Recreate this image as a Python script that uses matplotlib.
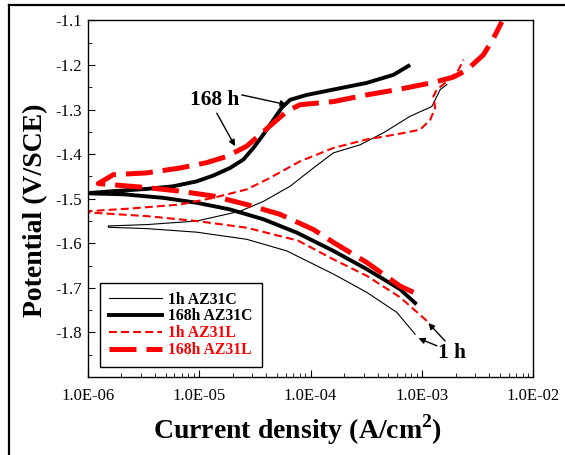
import numpy as np
import matplotlib
matplotlib.use("Agg")
import matplotlib.pyplot as plt
from matplotlib.lines import Line2D
from matplotlib.ticker import LogLocator, MultipleLocator, FixedLocator

plt.rcParams["font.family"] = ["Liberation Serif", "DejaVu Serif"]
plt.rcParams["mathtext.fontset"] = "custom"
plt.rcParams["mathtext.rm"] = "Liberation Serif"
plt.rcParams["mathtext.bf"] = "Liberation Serif:bold"

# log10 of current density (A/cm2) and potential (V/SCE)
# 1h AZ31C: cathodic branch (from high current back to Ecorr) then anodic branch
c1_logi = [-3.062, -3.226, -3.496, -3.795, -4.214, -4.573, -5.022, -5.470, -5.815,
           -5.815, -5.470, -5.022, -4.633, -4.424, -4.184, -3.975, -3.795, -3.556,
           -3.346, -3.107, -2.912, -2.882, -2.837, -2.777]
c1_e = [-1.804, -1.755, -1.710, -1.669, -1.617, -1.591, -1.575, -1.567, -1.564,
        -1.561, -1.558, -1.550, -1.528, -1.506, -1.472, -1.431, -1.397, -1.379,
        -1.352, -1.315, -1.293, -1.278, -1.255, -1.244]

# 168h AZ31C
c168_logi = [-3.062, -3.197, -3.496, -3.795, -4.124, -4.424, -4.723, -5.022, -5.321,
             -5.680, -5.979,
             -5.979, -5.770, -5.470, -5.232, -5.022, -4.873, -4.723, -4.603, -4.513,
             -4.424, -4.334, -4.259, -4.184, -4.034, -3.795, -3.496, -3.257, -3.122]
c168_e = [-1.734, -1.703, -1.658, -1.617, -1.576, -1.546, -1.524, -1.509, -1.498,
          -1.490, -1.488,
          -1.487, -1.483, -1.478, -1.472, -1.461, -1.448, -1.431, -1.412, -1.386,
          -1.356, -1.323, -1.296, -1.278, -1.267, -1.255, -1.240, -1.222, -1.202]

# 1h AZ31L
l1_logi = [-2.957, -3.197, -3.496, -3.795, -4.112, -4.573, -5.022, -5.470, -5.979,
           -6.000,
           -5.620, -5.171, -4.873, -4.573, -4.393, -4.094, -3.795, -3.496, -3.197,
           -3.017, -2.927, -2.882, -2.898, -2.867, -2.777, -2.673, -2.628]
l1_e = [-1.774, -1.721, -1.673, -1.636, -1.594, -1.565, -1.550, -1.539, -1.531,
        -1.528,
        -1.522, -1.513, -1.498, -1.479, -1.457, -1.416, -1.386, -1.367, -1.354,
        -1.345, -1.323, -1.296, -1.270, -1.255, -1.237, -1.211, -1.188]

# 168h AZ31L
l168_logi = [-3.077, -3.197, -3.496, -3.795, -3.975, -4.274, -4.573, -4.873, -5.171,
             -5.470, -5.905,
             -5.770, -5.470, -5.171, -4.932, -4.752, -4.573, -4.453, -4.334, -4.214,
             -4.094, -3.795, -3.496, -3.197, -2.898, -2.718, -2.598, -2.449, -2.359,
             -2.284]
l168_e = [-1.710, -1.696, -1.643, -1.598, -1.569, -1.535, -1.513, -1.494, -1.483,
          -1.475, -1.466,
          -1.446, -1.442, -1.431, -1.419, -1.405, -1.382, -1.356, -1.330, -1.304,
          -1.289, -1.282, -1.267, -1.254, -1.239, -1.227, -1.211, -1.177, -1.140,
          -1.103]

labels = ["1h AZ31C", "168h AZ31C", "1h AZ31L", "168h AZ31L"]
xticks = [1e-6, 1e-5, 1e-4, 1e-3, 1e-2]
xticklabels = ["1.0E-06", "1.0E-05", "1.0E-04", "1.0E-03", "1.0E-02"]
yticks = [-1.8, -1.7, -1.6, -1.5, -1.4, -1.3, -1.2, -1.1]

fig = plt.figure(figsize=(5.65, 4.55), dpi=100)
ax = fig.add_axes([0.1552, 0.1714, 0.789, 0.7836])

ax.plot(10 ** np.array(c1_logi), c1_e, color="black", lw=0.8, label=labels[0])
ax.plot(10 ** np.array(c168_logi), c168_e, color="black", lw=2.8, label=labels[1])
ax.plot(10 ** np.array(l1_logi), l1_e, color="red", lw=1.5, dashes=(3.8, 2.0),
        label=labels[2])
ax.plot(10 ** np.array(l168_logi), l168_e, color="red", lw=3.6, dashes=(5.4, 2.0),
        label=labels[3])

ax.set_xscale("log")
ax.set_xlim(1e-6, 1e-2)
ax.set_ylim(-1.9, -1.1)
ax.xaxis.set_major_locator(FixedLocator(xticks))
ax.set_xticklabels(xticklabels)
ax.xaxis.set_minor_locator(LogLocator(base=10, subs=np.arange(2, 10)))
ax.yaxis.set_major_locator(FixedLocator(yticks))
ax.set_yticklabels([f"{v:.1f}" for v in yticks])
ax.yaxis.set_minor_locator(MultipleLocator(0.05))
ax.tick_params(which="both", direction="in", top=False, right=False, labelsize=12)
ax.tick_params(axis="x", which="major", length=5, pad=8)
ax.tick_params(axis="x", which="minor", length=3)
ax.tick_params(axis="y", which="major", length=5, pad=4)
ax.tick_params(axis="y", which="minor", length=3)
for s in ax.spines.values():
    s.set_linewidth(1.0)

ax.set_xlabel("Current density (A/cm$^{\\mathbf{2}}$)", fontsize=20, fontweight="bold")
ax.xaxis.set_label_coords(0.47, -0.149)
ax.xaxis.label.set_va("center")
ax.set_ylabel("Potential (V/SCE)", fontsize=20, fontweight="bold")
ax.yaxis.set_label_coords(-0.116, 0.468)
ax.yaxis.label.set_va("center")

leg = ax.legend(loc="lower left", bbox_to_anchor=(0.028, 0.029), borderaxespad=0,
                fancybox=False, framealpha=1, edgecolor="black",
                prop={"size": 11.3, "weight": "bold"}, handlelength=3.4,
                handletextpad=0.4, labelspacing=0.05, borderpad=0.55)
leg.get_frame().set_linewidth(1.0)
for txt, c in zip(leg.get_texts(), ["black", "black", "red", "red"]):
    txt.set_color(c)

arrow = dict(arrowstyle="-|>", color="black", lw=1.0, mutation_scale=9,
             shrinkA=0, shrinkB=0)
ax.text(1.38e-5, -1.278, "168 h", fontsize=15.3, fontweight="bold",
        ha="center", va="center")
ax.annotate("", xy=(6.1e-5, -1.289), xytext=(2.41e-5, -1.267), arrowprops=arrow)
ax.annotate("", xy=(2.1e-5, -1.382), xytext=(1.44e-5, -1.308), arrowprops=arrow)
ax.text(1.86e-3, -1.846, "1 h", fontsize=15.3, fontweight="bold",
        ha="center", va="center")
ax.annotate("", xy=(1.14e-3, -1.779), xytext=(1.61e-3, -1.819), arrowprops=arrow)
ax.annotate("", xy=(9.3e-4, -1.813), xytext=(1.36e-3, -1.830), arrowprops=arrow)

# outer frame (top and left edges only)
fig.add_artist(Line2D([9 / 565, 1], [1 - 5 / 455, 1 - 5 / 455],
                      transform=fig.transFigure, color="black", lw=1.6))
fig.add_artist(Line2D([9 / 565, 9 / 565], [0, 1 - 5 / 455],
                      transform=fig.transFigure, color="black", lw=1.6))

fig.savefig("out.png", dpi=100)
